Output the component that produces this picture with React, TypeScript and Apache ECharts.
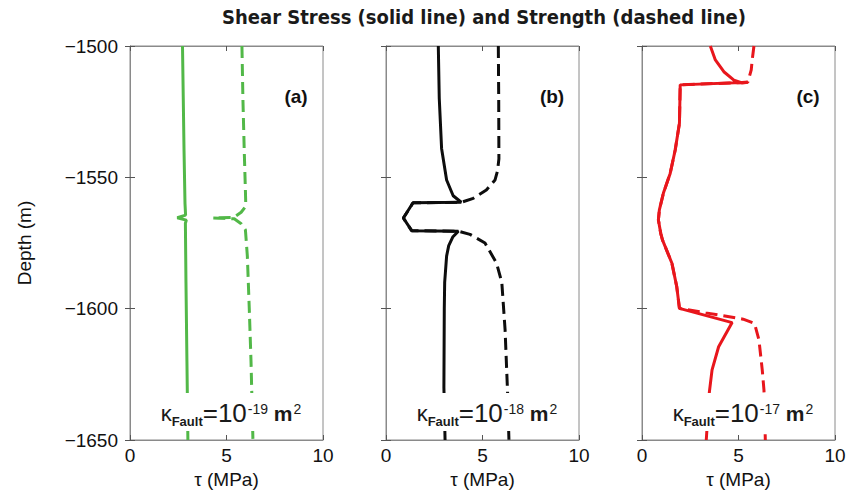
import React, { useEffect, useRef } from 'react';
import * as echarts from 'echarts';

// Axis ranges
const TAU_MIN = 0;
const TAU_MAX = 10;
const TAU_STEP = 5;
const DEPTH_MIN = -1650;
const DEPTH_MAX = -1500;
const DEPTH_STEP = 50;

// Panel (a): κ_Fault = 1e-19 m², points are [τ (MPa), depth (m)]
const stressA: [number, number][] = [
  [2.72, -1500], [2.76, -1520], [2.8, -1540], [2.85, -1560], [2.88, -1564.4],
  [2.45, -1565.4], [2.92, -1566.3], [2.87, -1567.5], [2.9, -1590], [2.95, -1620], [3.0, -1650],
];
const strengthA: [number, number][] = [
  [5.8, -1500], [5.85, -1520], [5.92, -1540], [5.98, -1555], [6.0, -1561],
  [5.76, -1563.3], [5.4, -1565.2], [4.3, -1565.5], [5.4, -1565.8], [5.76, -1567.7],
  [5.98, -1570], [6.08, -1580], [6.18, -1600], [6.27, -1620], [6.37, -1650],
];

// Panel (b): κ_Fault = 1e-18 m²
const stressB: [number, number][] = [
  [2.71, -1500], [2.76, -1520], [2.88, -1539], [3.14, -1551], [3.48, -1557],
  [3.9, -1559.5], [1.4, -1559.7], [0.9, -1565.5], [1.33, -1570.3], [3.75, -1570.5],
  [3.47, -1572.6], [3.25, -1576], [3.14, -1580], [3.04, -1590], [3.02, -1600],
  [3.0, -1630], [3.06, -1650],
];
const strengthB: [number, number][] = [
  [5.82, -1500], [5.84, -1520], [5.85, -1543], [5.78, -1547.5], [5.65, -1551],
  [5.2, -1554.8], [4.52, -1558], [3.9, -1559.5], [1.4, -1559.7], [0.9, -1565.5],
  [1.33, -1570.3], [3.75, -1570.5], [4.35, -1571.7], [5.13, -1575], [5.73, -1582.7],
  [6.0, -1590], [6.17, -1608], [6.3, -1632], [6.37, -1650],
];

// Panel (c): κ_Fault = 1e-17 m²
const stressC: [number, number][] = [
  [3.54, -1500], [3.8, -1505.3], [4.24, -1509.8], [4.76, -1513], [5.19, -1514.1],
  [5.48, -1513.8], [1.98, -1514.8], [1.94, -1529.4], [1.72, -1539.6], [1.46, -1548.5],
  [1.11, -1556], [0.9, -1562.4], [0.85, -1566.2], [0.97, -1571.3], [1.06, -1573.8],
  [1.55, -1582.7], [1.8, -1591.6], [1.94, -1599.9], [4.67, -1605.3], [3.97, -1614.5],
  [3.63, -1623.3], [3.49, -1631.8], [3.33, -1650],
];
const strengthCTop: [number, number][] = [
  [5.8, -1500], [5.71, -1505.3], [5.66, -1509.1],
];
const strengthCBottom: [number, number][] = [
  [3.3, -1601.6], [5.24, -1604], [5.83, -1605.6], [6.06, -1611.9],
  [6.23, -1623.3], [6.32, -1631], [6.39, -1650],
];
// Through the slipping section the strength sits on the stress curve
const strengthC: [number, number][] = [
  ...strengthCTop,
  ...stressC.slice(5, 18),
  ...strengthCBottom,
];

const panelLetters = ['(a)', '(b)', '(c)'];
const permExponents = ['-19', '-18', '-17'];
const panelColors = ['#52b848', '#0d0d0d', '#e8161c'];
const stressSeries = [stressA, stressB, stressC];
const strengthSeries = [strengthA, strengthB, strengthC];

const GRID_LEFTS = [130, 386, 642];
const GRID_TOP = 46;
const GRID_W = 193;
const GRID_H = 394;
const FRAME = '#8a8a8a';
const SANS = '"Liberation Sans", Helvetica, Arial, sans-serif';
const INK = '#1a1a1a';

const minusFmt = (v: number) => String(v).replace('-', '\u2212');

function buildOption(): echarts.EChartsOption {
  const grids = GRID_LEFTS.map((left) => ({
    left,
    top: GRID_TOP,
    width: GRID_W,
    height: GRID_H,
    show: true,
    borderColor: FRAME,
    borderWidth: 1,
    backgroundColor: '#fff',
  }));

  const baseAxisLine = { show: true, lineStyle: { color: FRAME, width: 1 } };
  const baseTick = { show: true, inside: true, length: 5, lineStyle: { color: '#555', width: 1 } };

  const xAxes: any[] = [];
  const yAxes: any[] = [];
  [0, 1, 2].forEach((i) => {
    xAxes.push({
      type: 'value',
      gridIndex: i,
      position: 'bottom',
      min: TAU_MIN,
      max: TAU_MAX,
      interval: TAU_STEP,
      name: '\u03c4 (MPa)',
      nameLocation: 'middle',
      nameGap: 28,
      nameTextStyle: { fontFamily: SANS, fontSize: 19, color: '#111', verticalAlign: 'top' },
      axisLine: baseAxisLine,
      axisTick: baseTick,
      splitLine: { show: false },
      axisLabel: { fontFamily: SANS, fontSize: 19, color: '#111', margin: 6 },
    });
    yAxes.push({
      type: 'value',
      gridIndex: i,
      position: 'left',
      min: DEPTH_MIN,
      max: DEPTH_MAX,
      interval: DEPTH_STEP,
      name: i === 0 ? 'Depth (m)' : '',
      nameLocation: 'middle',
      nameGap: 96,
      nameTextStyle: { fontFamily: SANS, fontSize: 19, color: '#111' },
      axisLine: baseAxisLine,
      axisTick: baseTick,
      splitLine: { show: false },
      axisLabel: {
        show: i === 0,
        fontFamily: SANS,
        fontSize: 19,
        color: '#111',
        margin: 12,
        formatter: minusFmt,
      },
    });
  });
  // Mirror axes so the frame carries ticks on all four sides
  [0, 1, 2].forEach((i) => {
    xAxes.push({
      type: 'value',
      gridIndex: i,
      position: 'top',
      min: TAU_MIN,
      max: TAU_MAX,
      interval: TAU_STEP,
      axisLine: baseAxisLine,
      axisTick: baseTick,
      splitLine: { show: false },
      axisLabel: { show: false },
    });
    yAxes.push({
      type: 'value',
      gridIndex: i,
      position: 'right',
      min: DEPTH_MIN,
      max: DEPTH_MAX,
      interval: DEPTH_STEP,
      axisLine: baseAxisLine,
      axisTick: baseTick,
      splitLine: { show: false },
      axisLabel: { show: false },
    });
  });

  const series: any[] = [];
  [0, 1, 2].forEach((i) => {
    series.push({
      type: 'line',
      name: 'Strength ' + panelLetters[i],
      xAxisIndex: i,
      yAxisIndex: i,
      data: strengthSeries[i],
      showSymbol: false,
      symbol: 'none',
      lineStyle: { color: panelColors[i], width: 3, type: [12, 6] },
      z: 2,
    });
    series.push({
      type: 'line',
      name: 'Stress ' + panelLetters[i],
      xAxisIndex: i,
      yAxisIndex: i,
      data: stressSeries[i],
      showSymbol: false,
      symbol: 'none',
      lineStyle: { color: panelColors[i], width: 3 },
      z: 3,
    });
  });

  const graphics: any[] = [
    {
      type: 'text',
      x: 484,
      y: 17,
      style: {
        text: 'Shear Stress (solid line) and Strength (dashed line)',
        fontFamily: '"DejaVu Sans Condensed", "DejaVu Sans", sans-serif',
        fontSize: 20,
        fontWeight: 'bold',
        fill: INK,
        align: 'center',
        verticalAlign: 'middle',
      },
      z: 100,
    },
  ];

  GRID_LEFTS.forEach((left, i) => {
    graphics.push({
      type: 'text',
      x: left + 166,
      y: 96,
      style: {
        text: panelLetters[i],
        fontFamily: SANS,
        fontSize: 19,
        fontWeight: 'bold',
        fill: '#111',
        align: 'center',
        verticalAlign: 'middle',
      },
      z: 100,
    });
    const cx = left + 101;
    graphics.push({
      type: 'rect',
      shape: { x: cx - 80, y: 393, width: 160, height: 38 },
      style: { fill: '#fff' },
      z: 99,
    });
    graphics.push({
      type: 'text',
      x: cx,
      y: 413,
      style: {
        text: `{k|\u03ba}{sub|Fault}{eq|=10}{sup|${permExponents[i]}}{m| m}{sup|2}`,
        align: 'center',
        verticalAlign: 'middle',
        fill: INK,
        rich: {
          k: { fontFamily: SANS, fontSize: 22, fill: INK, verticalAlign: 'middle', lineHeight: 30 },
          sub: { fontFamily: SANS, fontSize: 13, fontWeight: 'bold', fill: INK, verticalAlign: 'bottom', lineHeight: 30 },
          eq: { fontFamily: SANS, fontSize: 26, fill: INK, verticalAlign: 'middle', lineHeight: 30 },
          sup: { fontFamily: SANS, fontSize: 14, fill: INK, verticalAlign: 'top', lineHeight: 30, padding: [4, 0, 0, 1] },
          m: { fontFamily: SANS, fontSize: 21, fontWeight: 'bold', fill: INK, verticalAlign: 'middle', lineHeight: 30 },
        },
      },
      z: 100,
    });
  });

  return {
    animation: false,
    backgroundColor: '#fff',
    grid: grids,
    xAxis: xAxes,
    yAxis: yAxes,
    series,
    graphic: graphics,
  };
}

export default function App() {
  const ref = useRef<HTMLDivElement>(null);
  useEffect(() => {
    if (!ref.current) return;
    const chart = echarts.init(ref.current, undefined, { renderer: 'svg' });
    chart.setOption(buildOption());
    return () => chart.dispose();
  }, []);
  return (
    <div
      ref={ref}
      style={{ position: 'fixed', left: 0, top: 0, width: 855, height: 494, background: '#fff' }}
    />
  );
}
